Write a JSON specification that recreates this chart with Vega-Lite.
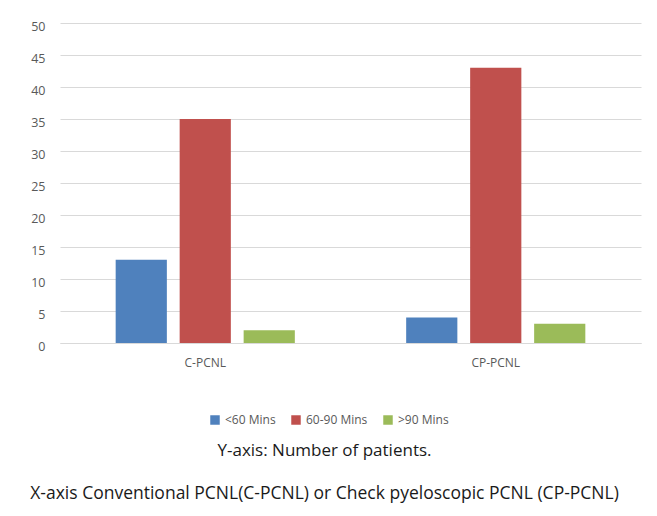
{
  "$schema": "https://vega.github.io/schema/vega-lite/v6.json",
  "autosize": {"type": "none"},
  "width": 581,
  "height": 320,
  "padding": {"left": 60, "top": 23, "right": 16, "bottom": 173},
  "background": "white",
  "config": {"view": {"stroke": null}},
  "data": {
    "values": [
      {"group": "C-PCNL", "duration": "<60 Mins", "count": 13},
      {"group": "C-PCNL", "duration": "60-90 Mins", "count": 35},
      {"group": "C-PCNL", "duration": ">90 Mins", "count": 2},
      {"group": "CP-PCNL", "duration": "<60 Mins", "count": 4},
      {"group": "CP-PCNL", "duration": "60-90 Mins", "count": 43},
      {"group": "CP-PCNL", "duration": ">90 Mins", "count": 3}
    ]
  },
  "mark": {"type": "bar"},
  "encoding": {
    "x": {
      "field": "group", "type": "nominal", "sort": ["C-PCNL", "CP-PCNL"],
      "scale": {"paddingInner": 0, "paddingOuter": 0},
      "axis": {"title": null, "labelAngle": 0, "labelFont": "Open Sans", "labelFontSize": 12, "labelColor": "#595959", "ticks": false, "domainColor": "#d9d9d9", "labelPadding": 14}
    },
    "xOffset": {
      "field": "duration", "type": "nominal", "sort": ["<60 Mins", "60-90 Mins", ">90 Mins"],
      "scale": {"paddingInner": 0.2, "paddingOuter": 0.87}
    },
    "y": {
      "field": "count", "type": "quantitative",
      "scale": {"domain": [0, 50]},
      "axis": {"title": null, "values": [0, 5, 10, 15, 20, 25, 30, 35, 40, 45, 50], "grid": true, "gridColor": "#d9d9d9", "domain": false, "ticks": false, "labelPadding": 15, "labelFont": "Open Sans", "labelFontSize": 12.5, "labelColor": "#595959", "labelOffset": 3}
    },
    "color": {
      "field": "duration", "type": "nominal",
      "scale": {"domain": ["<60 Mins", "60-90 Mins", ">90 Mins"], "range": ["#4F81BD", "#C0504D", "#9BBB59"]},
      "legend": {"orient": "none", "legendX": 149, "legendY": 391, "direction": "horizontal", "title": null, "symbolType": "square", "symbolSize": 90, "symbolStrokeWidth": 0, "labelFont": "Open Sans", "labelFontSize": 12, "labelColor": "#595959", "columnPadding": 14, "labelOffset": 4}
    }
  },
  "title": {
    "text": "Y-axis: Number of patients.",
    "subtitle": "X-axis Conventional PCNL(C-PCNL) or Check pyeloscopic PCNL (CP-PCNL)",
    "orient": "bottom",
    "anchor": "middle",
    "dx": -26,
    "offset": 17,
    "font": "Open Sans",
    "fontSize": 17,
    "fontWeight": "normal",
    "color": "#1a1a1a",
    "subtitleFont": "Open Sans",
    "subtitleFontSize": 17.5,
    "subtitleColor": "#1a1a1a",
    "subtitlePadding": 25
  }
}
